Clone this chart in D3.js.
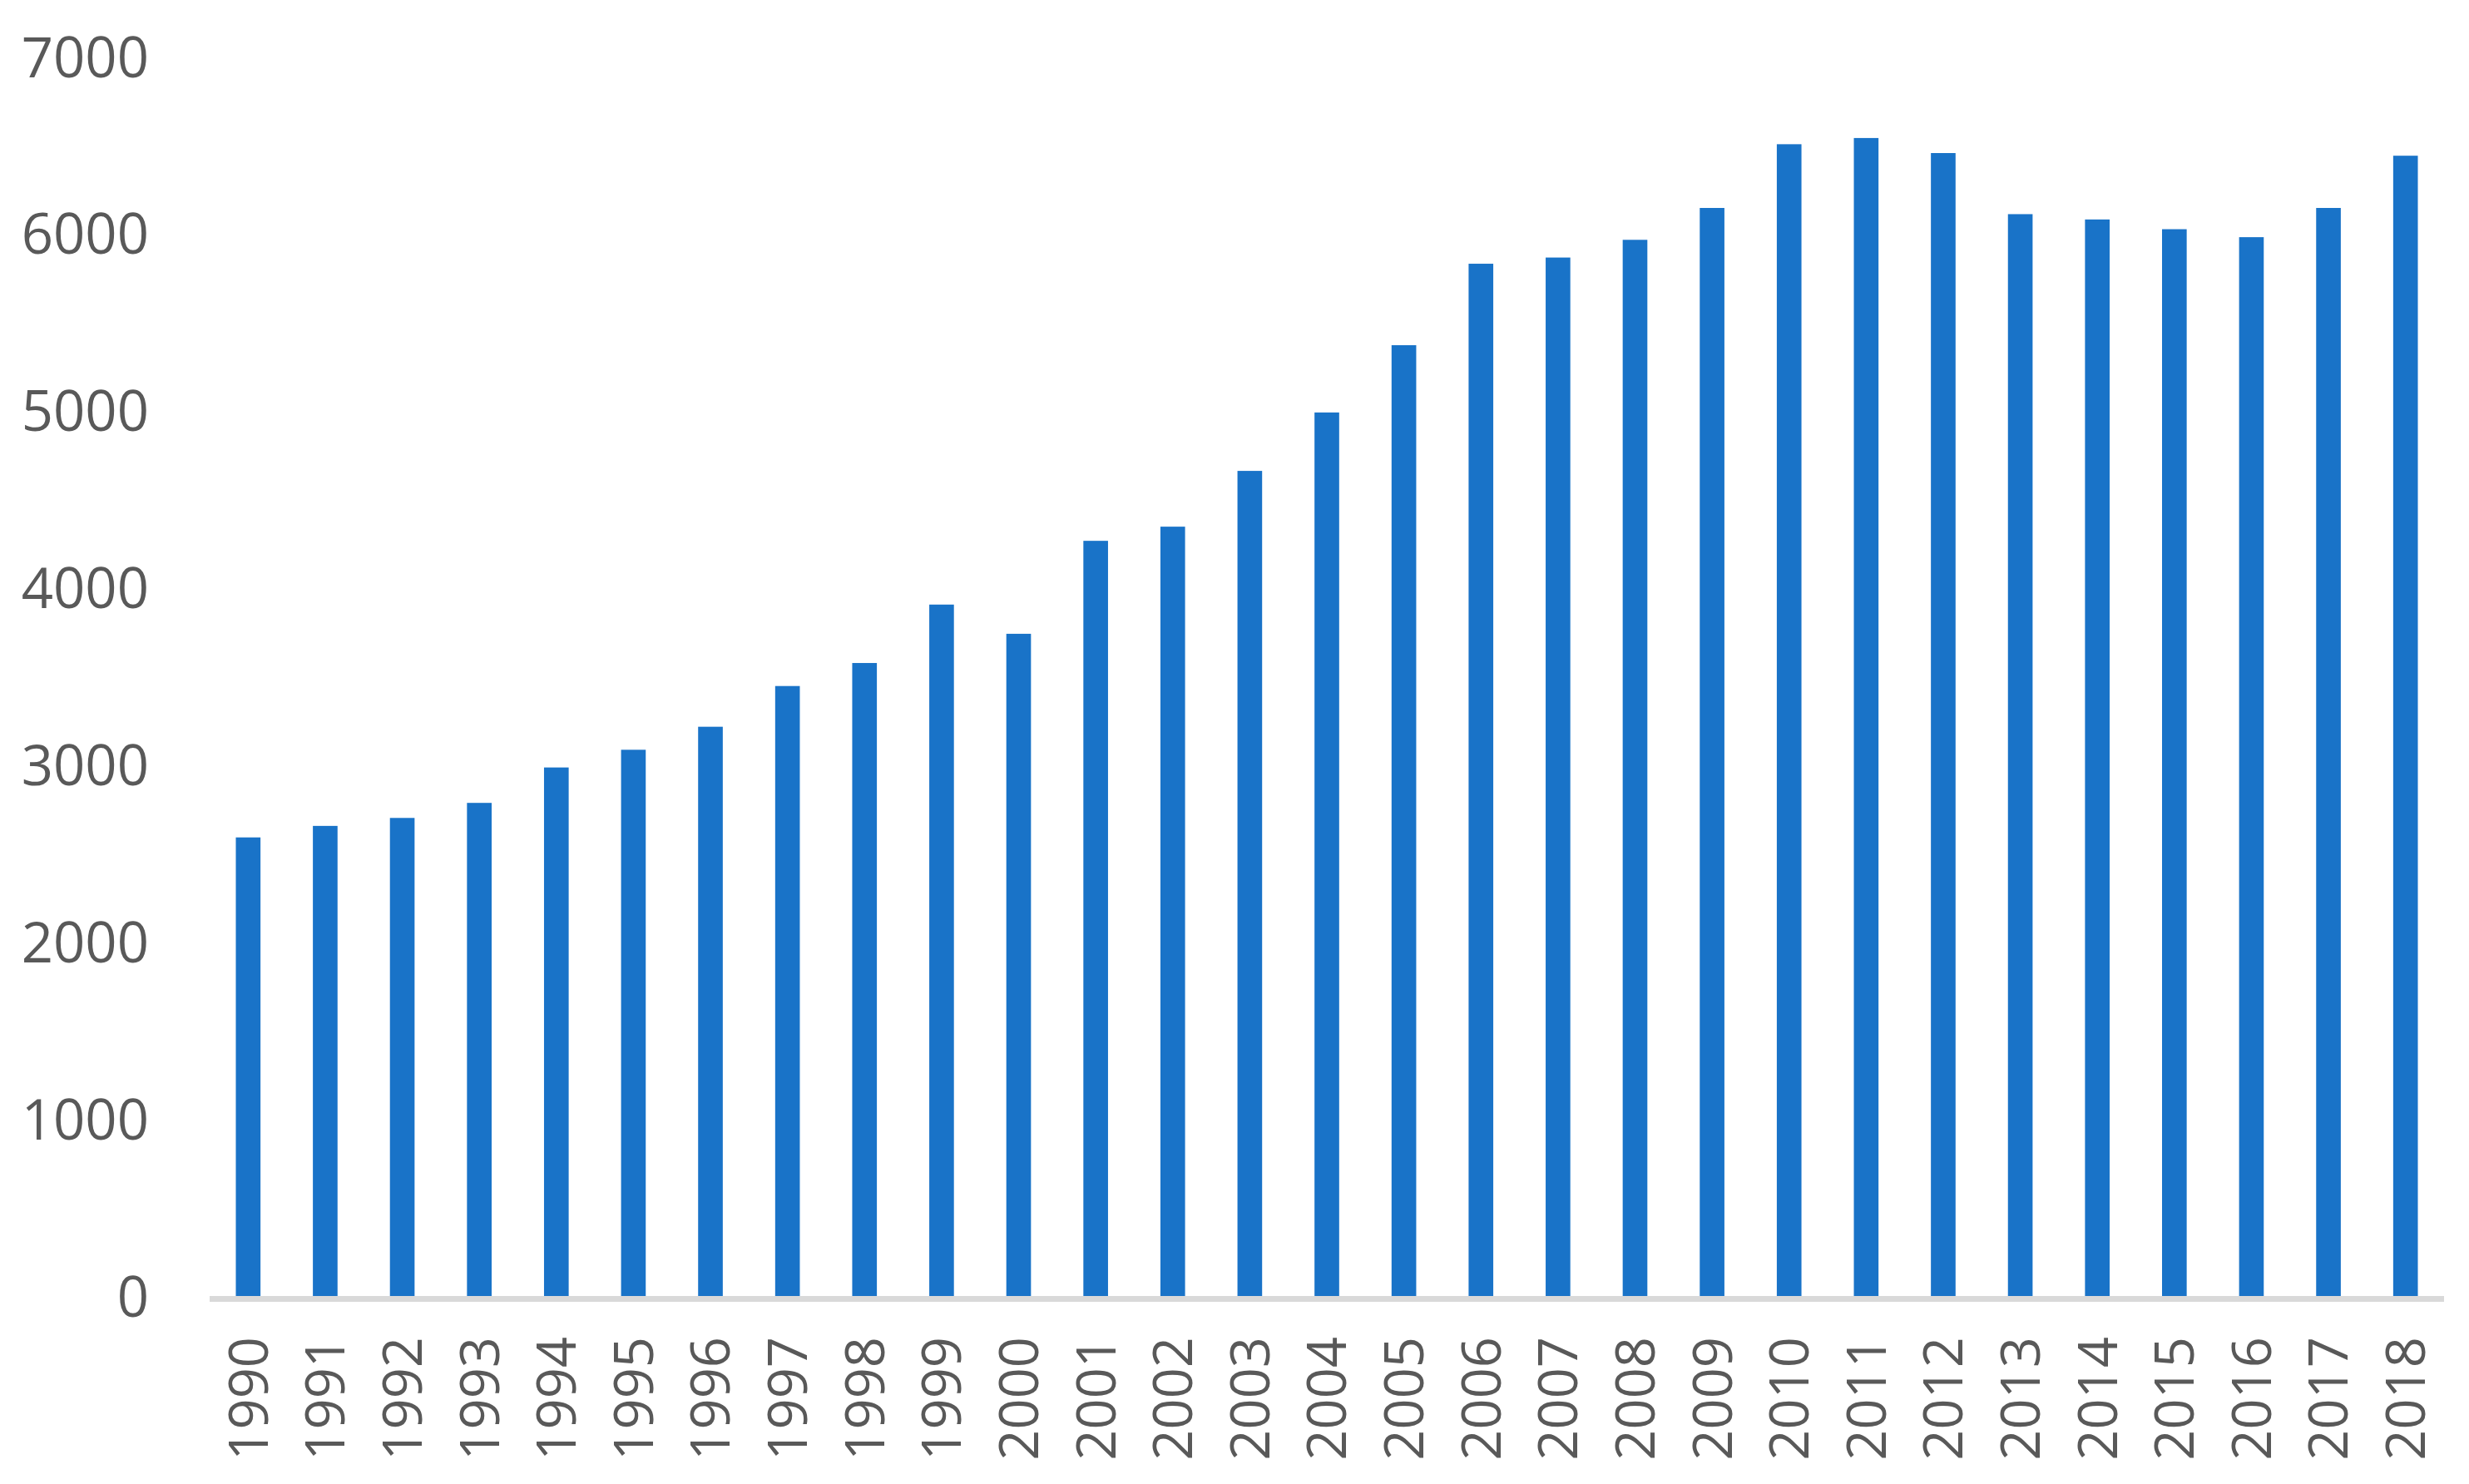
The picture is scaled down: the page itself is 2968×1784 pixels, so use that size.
<!DOCTYPE html>
<html>
<head>
<meta charset="utf-8">
<script src="https://cdn.jsdelivr.net/npm/d3@7"></script>
<style>
  html, body { margin: 0; padding: 0; background: #ffffff; }
  svg { display: block; }
</style>
</head>
<body>
<script>
const years = ["1990","1991","1992","1993","1994","1995","1996","1997","1998","1999",
               "2000","2001","2002","2003","2004","2005","2006","2007","2008","2009",
               "2010","2011","2012","2013","2014","2015","2016","2017","2018"];
const values = [2590, 2655, 2700, 2785, 2985, 3085, 3215, 3445, 3575, 3905,
                3740, 4265, 4345, 4660, 4990, 5370, 5830, 5865, 5965, 6145,
                6505, 6540, 6455, 6110, 6080, 6025, 5980, 6145, 6440];
const yTicks = [0, 1000, 2000, 3000, 4000, 5000, 6000, 7000];

const W = 2968, H = 1784;
const svg = d3.select("body").append("svg").attr("width", W).attr("height", H);

const x = d3.scaleBand().domain(years).range([252, 2938]).paddingInner(0.68).paddingOuter(0.34);
const y = d3.scaleLinear().domain([0, 7000]).range([1558, 68]);

const fontFam = "'Open Sans', 'Noto Sans', sans-serif";
const textColor = "#595959";

// bars
svg.append("g").selectAll("rect").data(values).join("rect")
  .attr("x", (d, i) => x(years[i]))
  .attr("y", d => y(d))
  .attr("width", x.bandwidth())
  .attr("height", d => y(0) - y(d))
  .attr("fill", "#1973c8");

// y axis labels
const yAxis = d3.axisLeft(y).tickValues(yTicks).tickSize(0).tickPadding(0).tickFormat(d3.format("d"));
const gy = svg.append("g").attr("transform", "translate(179,0)").call(yAxis);
gy.select(".domain").remove();
gy.selectAll("text")
  .attr("font-family", fontFam).attr("font-size", 67).attr("fill", textColor)
  .attr("dy", "0.36em");

// x axis
const xAxis = d3.axisBottom(x).tickSize(0).tickPadding(0);
const gx = svg.append("g").attr("transform", `translate(0,${y(0)})`).call(xAxis);
gx.select(".domain").attr("stroke", "#d9d9d9").attr("stroke-width", 7)
  .attr("d", `M252,3.5H2938`);
gx.selectAll("text")
  .attr("font-family", fontFam).attr("font-size", 65).attr("fill", textColor)
  .attr("text-anchor", "end")
  .attr("transform", "translate(0,49) rotate(-90)")
  .attr("x", 0).attr("y", 0).attr("dy", "0.36em");
</script>
</body>
</html>
